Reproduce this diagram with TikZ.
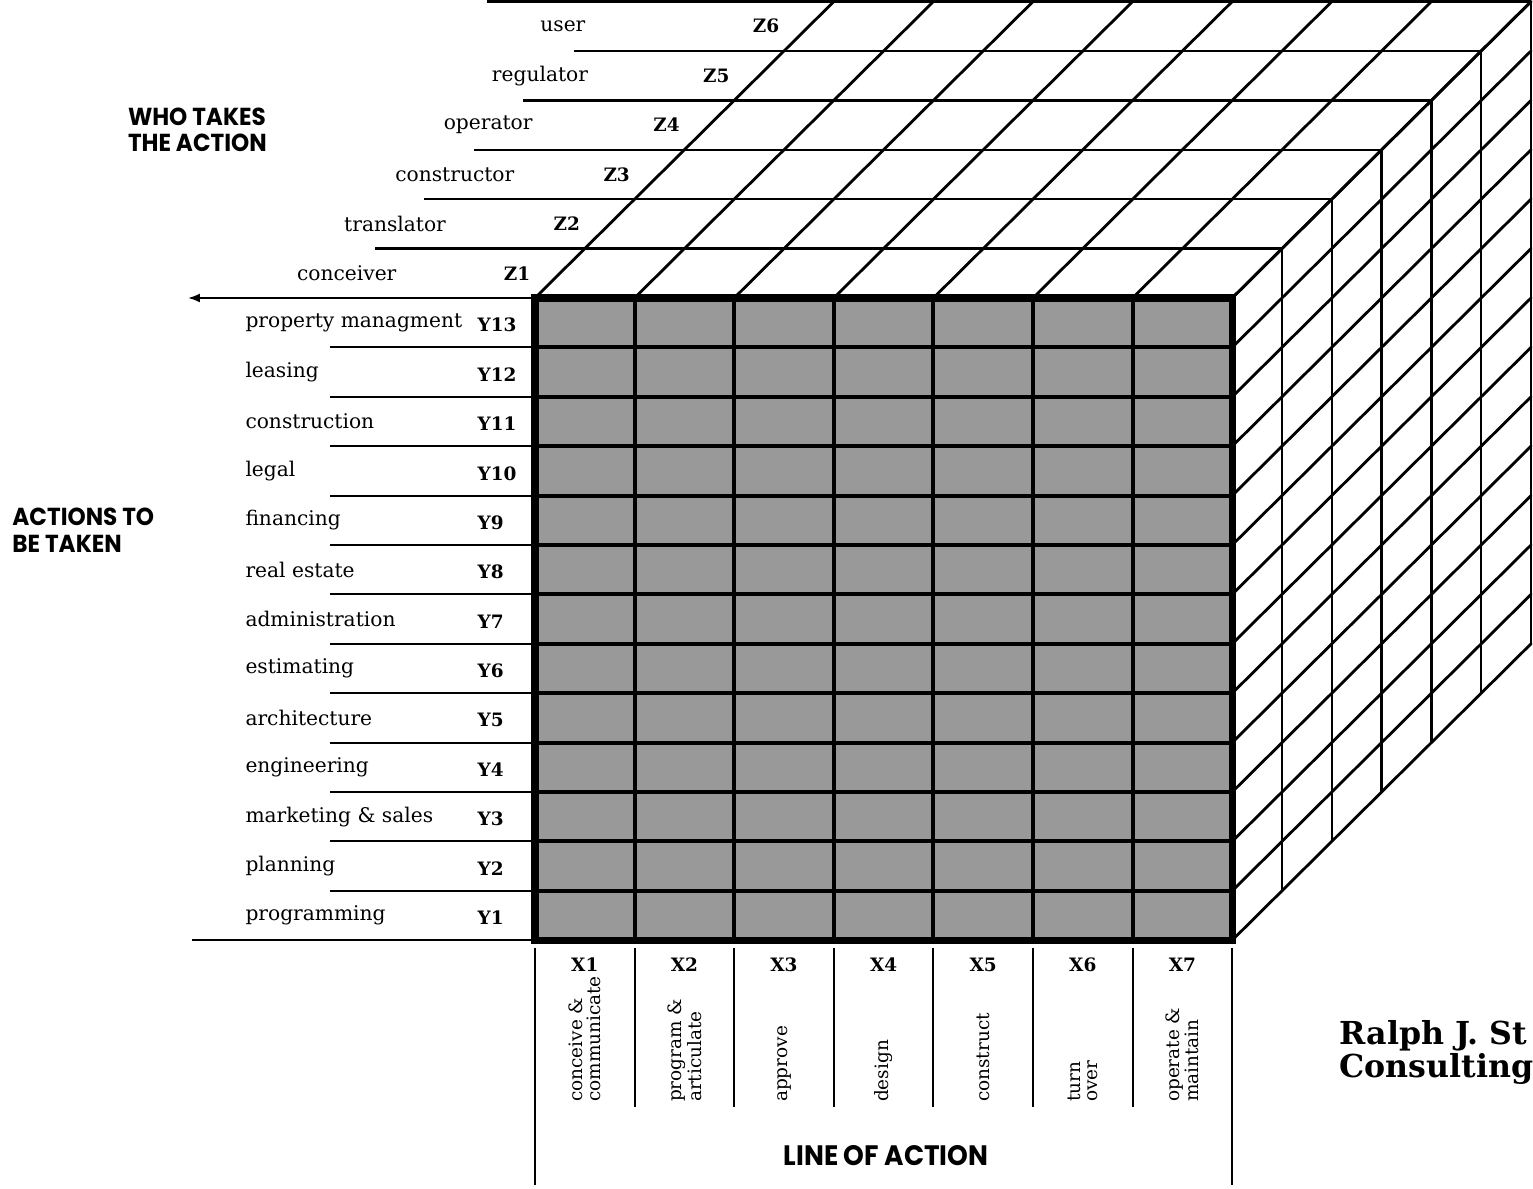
\documentclass[tikz,border=0pt]{standalone}
\usepackage{fontspec}
\setmainfont{DejaVu Serif}
\newfontfamily\headfont[FakeStretch=0.94]{Poppins}
\usetikzlibrary{arrows.meta}
\definecolor{stipple}{gray}{0.6}

\begin{document}
\begin{tikzpicture}[
  x=0.996cm, y=0.988cm,
  cubeline/.style={line width=1.6pt, line cap=round},
  edgeline/.style={line width=1.3pt},
  frontgrid/.style={line width=2.3pt},
  frontframe/.style={line width=4.2pt, line join=miter},
  guide/.style={line width=1.2pt},
  rowname/.style={font=\fontsize{11.5}{13}\selectfont, anchor=west, inner sep=0pt},
  zname/.style={font=\fontsize{11.5}{13}\selectfont, inner sep=0pt},
  code/.style={font=\fontsize{10.5}{12}\selectfont\bfseries, inner sep=0pt},
  verb/.style={font=\fontsize{10.5}{9.8}\selectfont, rotate=90, anchor=west, align=left, inner sep=0pt},
  headline/.style={font=\headfont\bfseries\fontsize{14}{15}\selectfont, align=left, inner sep=0pt},
  axishead/.style={font=\headfont\bfseries\fontsize{16}{17}\selectfont, inner sep=0pt},
  firmname/.style={font=\fontsize{18}{18.7}\selectfont\bfseries, anchor=west, align=left, inner sep=0pt}
]
  %% --- page frame (reference pixels / 49.8 resp. 49.4) ---
  \useasboundingbox (-10.743,-18.036) rectangle (20.040,6.032);

  %% --- front face corners ---
  \coordinate (ftl) at (0,0);
  \coordinate (ftr) at (14,0);
  \coordinate (fbl) at (0,-13);
  \coordinate (fbr) at (14,-13);

  %% --- top face: depth lines run out to the left as Z guides ---
  \foreach \k/\zx in {1/-3.21, 2/-2.23, 3/-1.22, 4/-0.24, 5/0.78, 6/-0.96} {
    \draw[edgeline] (\zx,\k) -- (14+\k,\k);
  }
  \foreach \c in {0,...,7} {
    \draw[cubeline] (2*\c,0) -- ++(6,6);
  }

  %% --- right face ---
  \foreach \k in {1,...,6} {
    \draw[edgeline] (14+\k,\k) -- (14+\k,\k-13);
  }
  \foreach \r in {0,...,13} {
    \draw[cubeline] (14,-\r) -- ++(6,6);
  }

  %% --- front face: shaded 7 x 13 grid ---
  \fill[stipple] (fbl) rectangle (ftr);
  \foreach \c in {1,...,6} {
    \draw[frontgrid] (2*\c,0) -- (2*\c,-13);
  }
  \foreach \r in {1,...,12} {
    \draw[frontgrid] (0,-\r) -- (14,-\r);
  }
  \draw[frontframe] (fbl) rectangle (ftr);

  %% --- Z axis: who takes the action ---
  \foreach \who/\wx [count=\k] in {conceiver/-3.78, translator/-2.81,
      constructor/-1.61, operator/-0.94, regulator/0.10, user/0.56} {
    \node[zname] (zname\k) at (\wx,{\k-0.5}) {\who};
    \node[code] (zcode\k) at ({\k-1.36},{\k-0.5}) {Z\k};
  }

  %% --- Y axis: actions to be taken ---
  \draw[guide, -{Latex[length=2.4mm, width=1.8mm]}] (ftl) -- (-6.97,0);
  \draw[guide] (fbl) -- (-6.89,-13);
  \foreach \r in {1,...,12} {
    \draw[guide] (-4.12,-\r) -- (0,-\r);
  }
  \foreach \what [count=\r] in {programming, planning, marketing \& sales,
      engineering, architecture, estimating, administration, real estate,
      financing, legal, construction, leasing, property managment} {
    \node[rowname] (yname\r) at (-5.82,{\r-13.5}) {\what};
    \node[code, anchor=west] (ycode\r) at (-1.16,{\r-13.55}) {Y\r};
  }

  %% --- X axis: line of action ---
  \foreach \c in {1,...,6} {
    \draw[guide] (2*\c,-13.15) -- (2*\c,-16.38);
  }
  \draw[guide] (0,-13.15) -- (0,-17.96);
  \draw[guide] (14,-13.15) -- (14,-17.96);
  \foreach \c in {1,...,7} {
    \node[code] (xcode\c) at ({2*\c-1},-13.5) {X\c};
  }
  \node[verb] (verb1) at (1,-16.28) {conceive \&\\communicate};
  \node[verb] (verb2) at (3,-16.28) {program \&\\articulate};
  \node[verb] (verb3) at (5,-16.28) {approve};
  \node[verb] (verb4) at (7,-16.28) {design};
  \node[verb] (verb5) at (9,-16.28) {construct};
  \node[verb] (verb6) at (11,-16.28) {turn\\over};
  \node[verb] (verb7) at (13,-16.28) {operate \&\\maintain};

  %% --- headings ---
  \node[headline, anchor=east] (whohead) at (-5.38,3.4) {WHO TAKES\\THE ACTION};
  \node[headline, anchor=west] (acthead) at (-10.5,-4.70) {ACTIONS TO\\BE TAKEN};
  \node[axishead] (linehead) at (7.05,-17.35) {LINE OF ACTION};
  \node[firmname] (firm) at (16.15,-15.28) {Ralph J. St\\Consulting};
\end{tikzpicture}
\end{document}
